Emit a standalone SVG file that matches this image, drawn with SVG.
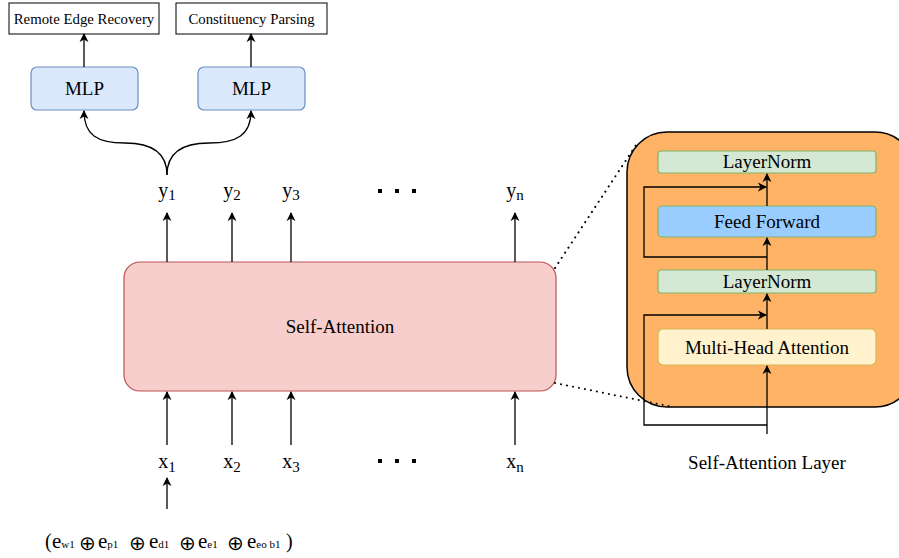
<svg xmlns="http://www.w3.org/2000/svg" width="899" height="558" viewBox="0 0 899 558">
<defs>
<marker id="arr" viewBox="0 0 10 10" refX="9" refY="5" markerWidth="9" markerHeight="10" markerUnits="userSpaceOnUse" orient="auto">
<path d="M0,0 L10,5 L0,10 L3,5 z" fill="#000"/>
</marker>
<style>
text{font-family:"Liberation Serif","Times New Roman",serif;fill:#000}
.t14{font-size:14.8px;text-anchor:middle}
.t19{font-size:19px;text-anchor:middle}
.lbl{font-size:20px;text-anchor:middle}
.sub{font-size:15px}
.e{font-size:21px}
.es{font-size:11px}
.op{font-size:20px;font-family:"DejaVu Sans",sans-serif;font-weight:200}
.box{fill:#fff;stroke:#000;stroke-width:1}
.mlp{fill:#dae8fc;stroke:#6c8ebf;stroke-width:1.2}
.ln{fill:#d5e8d4;stroke:#82b366;stroke-width:1.2}
.ff{fill:#99ccff;stroke:#82b366;stroke-width:1.2}
.mha{fill:#fff2cc;stroke:#d6b656;stroke-width:1.2}
.con{fill:none;stroke:#000;stroke-width:1.3}
.arr{marker-end:url(#arr)}
.dot{fill:none;stroke:#000;stroke-width:2;stroke-dasharray:0.1 6;stroke-linecap:round}
.sq{fill:#000}
</style>
</defs>

<g id="panel">
<rect x="627" y="132" width="288" height="275" rx="40" fill="#ffb366" stroke="#000" stroke-width="1.5"/>
</g>

<g id="remote-edge">
<rect class="box" x="9" y="3" width="150" height="31"/>
<text class="t14" x="84" y="23.5">Remote Edge Recovery</text>
</g>
<g id="constituency">
<rect class="box" x="176" y="3" width="151" height="31"/>
<text class="t14" x="251.5" y="23.5">Constituency Parsing</text>
</g>
<g id="mlp1">
<rect class="mlp" x="31" y="67" width="107" height="43" rx="6"/>
<text class="t19" x="84.5" y="95">MLP</text>
</g>
<g id="mlp2">
<rect class="mlp" x="198" y="67" width="107" height="43" rx="6"/>
<text class="t19" x="251.5" y="95">MLP</text>
</g>

<g id="self-attention">
<rect x="124" y="262" width="432" height="129" rx="16" fill="#f8cecc" stroke="#b85450" stroke-width="1.2"/>
<text class="t19" x="340" y="333">Self-Attention</text>
</g>

<g id="y-labels">
<text class="lbl" x="167" y="197">y<tspan class="sub" dy="3">1</tspan></text>
<text class="lbl" x="232" y="197">y<tspan class="sub" dy="3">2</tspan></text>
<text class="lbl" x="291" y="197">y<tspan class="sub" dy="3">3</tspan></text>
<text class="lbl" x="515" y="197">y<tspan class="sub" dy="3">n</tspan></text>
<rect class="sq" x="378" y="189" width="4" height="4"/>
<rect class="sq" x="395" y="189" width="4" height="4"/>
<rect class="sq" x="412" y="189" width="4" height="4"/>
</g>

<g id="x-labels">
<text class="lbl" x="167" y="468">x<tspan class="sub" dy="4">1</tspan></text>
<text class="lbl" x="232" y="468">x<tspan class="sub" dy="4">2</tspan></text>
<text class="lbl" x="291" y="468">x<tspan class="sub" dy="4">3</tspan></text>
<text class="lbl" x="515" y="468">x<tspan class="sub" dy="4">n</tspan></text>
<rect class="sq" x="378" y="459" width="4" height="4"/>
<rect class="sq" x="395" y="459" width="4" height="4"/>
<rect class="sq" x="412" y="459" width="4" height="4"/>
</g>

<g id="embedding">
<text x="45" y="548" style="font-size:20px">(</text>
<text class="e" x="52" y="548">e<tspan class="es">w1</tspan></text>
<text class="op" x="79" y="550">⊕</text>
<text class="e" x="98" y="548">e<tspan class="es">p1</tspan></text>
<text class="op" x="129" y="550">⊕</text>
<text class="e" x="149" y="548">e<tspan class="es">d1</tspan></text>
<text class="op" x="179" y="550">⊕</text>
<text class="e" x="198" y="548">e<tspan class="es">e1</tspan></text>
<text class="op" x="227" y="550">⊕</text>
<text class="e" x="247" y="548">e<tspan class="es">eo b1</tspan></text>
<text x="286" y="548" style="font-size:20px">)</text>
</g>

<g id="layernorm-top">
<rect class="ln" x="658" y="151" width="218" height="22" rx="3"/>
<text class="t19" x="767" y="168">LayerNorm</text>
</g>
<g id="feed-forward">
<rect class="ff" x="658" y="206" width="218" height="31" rx="4"/>
<text class="t19" x="767" y="228">Feed Forward</text>
</g>
<g id="layernorm-bottom">
<rect class="ln" x="658" y="270" width="218" height="23" rx="3"/>
<text class="t19" x="767" y="288">LayerNorm</text>
</g>
<g id="multi-head">
<rect class="mha" x="658" y="329" width="218" height="36" rx="5"/>
<text class="t19" x="767" y="354">Multi-Head Attention</text>
</g>
<g id="layer-caption">
<text class="t19" x="767" y="469">Self-Attention Layer</text>
</g>

<g id="connectors">
<line class="con arr" x1="84" y1="67" x2="84" y2="34"/>
<line class="con arr" x1="251" y1="67" x2="251" y2="34"/>
<path class="con arr" d="M167,175 C167,152 150,143 125,143 C97,143 84,135 84,111"/>
<path class="con arr" d="M167,175 C167,152 184,143 209,143 C237,143 251,135 251,111"/>
<line class="con arr" x1="167" y1="262" x2="167" y2="213"/>
<line class="con arr" x1="232" y1="262" x2="232" y2="213"/>
<line class="con arr" x1="291" y1="262" x2="291" y2="213"/>
<line class="con arr" x1="515" y1="262" x2="515" y2="213"/>
<line class="con arr" x1="167" y1="445" x2="167" y2="392"/>
<line class="con arr" x1="232" y1="445" x2="232" y2="392"/>
<line class="con arr" x1="291" y1="445" x2="291" y2="392"/>
<line class="con arr" x1="515" y1="445" x2="515" y2="392"/>
<line class="con arr" x1="167" y1="509" x2="167" y2="478"/>
<line class="dot" x1="555" y1="268" x2="636" y2="145"/>
<line class="dot" x1="555" y1="383" x2="673" y2="407"/>
<line class="con arr" x1="767" y1="434" x2="767" y2="366"/>
<line class="con arr" x1="767" y1="329" x2="767" y2="294"/>
<polyline class="con arr" points="767,425 644,425 644,315 766,315"/>
<line class="con arr" x1="767" y1="270" x2="767" y2="238"/>
<polyline class="con arr" points="767,257 644,257 644,187 766,187"/>
<line class="con arr" x1="767" y1="206" x2="767" y2="174"/>
</g>
</svg>
